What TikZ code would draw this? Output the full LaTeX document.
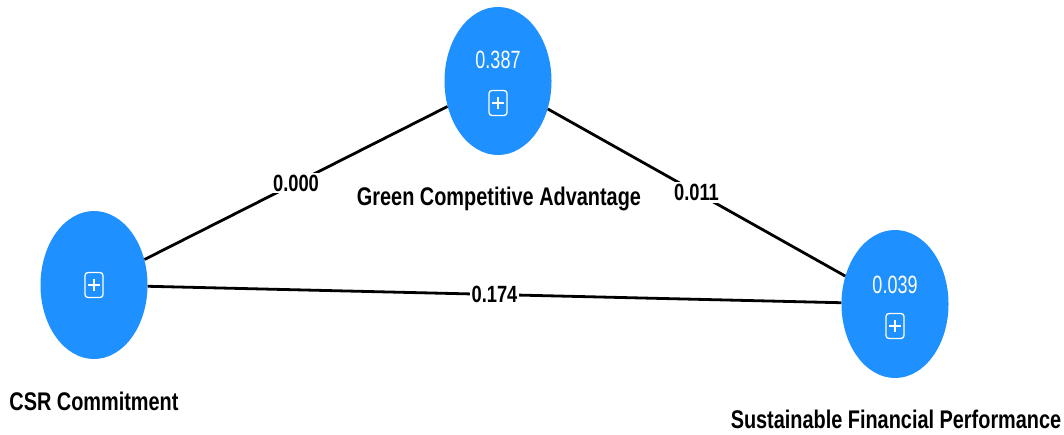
\documentclass[tikz,border=0pt]{standalone}
\usepackage{fontspec}
\setmainfont{Liberation Sans}
\newfontfamily\cond[FakeStretch=0.78]{Liberation Sans}
\newfontfamily\condv[FakeStretch=0.72]{Liberation Sans}
\usetikzlibrary{shapes.geometric}
\definecolor{nodeblue}{RGB}{30,144,255}
\tikzset{
  construct/.style={ellipse, fill=nodeblue, draw=none, inner sep=0pt, minimum width=107pt, minimum height=148pt},
  value/.style={text=white, font=\condv\fontsize{25}{28}\selectfont, anchor=base, inner sep=0pt},
  plusbox/.style={draw=white, line width=1.3pt, rounded corners=3pt, minimum width=18pt, minimum height=25pt, inner sep=0pt,
    path picture={\draw[white, line width=1.3pt] ([xshift=-6pt]path picture bounding box.center) -- ([xshift=6pt]path picture bounding box.center);
                  \draw[white, line width=1.3pt] ([yshift=-6pt]path picture bounding box.center) -- ([yshift=6pt]path picture bounding box.center);}},
  title/.style={font=\cond\bfseries\fontsize{25.5}{28}\selectfont, anchor=base, inner sep=0pt},
  link/.style={line width=2.8pt, black},
  weight/.style={fill=white, font=\cond\bfseries\fontsize{23.5}{26}\selectfont, inner sep=2pt}
}
\begin{document}
\begin{tikzpicture}[x=1pt,y=-1pt]
\useasboundingbox (0,0) rectangle (1064,434);
\fill[white] (0,0) rectangle (1064,434);
\node[construct] (gca) at (498,81) {};
\node[construct] (csr) at (94,285) {};
\node[construct] (sfp) at (895,304) {};
\draw[link] (csr) -- node[weight, pos=0.5] (w1) {0.000} (gca);
\draw[link] (gca) -- node[weight, pos=0.5] (w2) {0.011} (sfp);
\draw[link] (csr) -- node[weight, pos=0.5] (w3) {0.174} (sfp);
\node[value] (v1) at (498,68) {0.387};
\node[value] (v3) at (895,293) {0.039};
\node[plusbox] (p1) at (498,103) {};
\node[plusbox] (p2) at (94,285) {};
\node[plusbox] (p3) at (895,326) {};
\node[title] (t1) at (499,205) {Green Competitive Advantage};
\node[title] (t2) at (94,410) {CSR Commitment};
\node[title] (t3) at (896,428) {Sustainable Financial Performance};
\end{tikzpicture}
\end{document}
